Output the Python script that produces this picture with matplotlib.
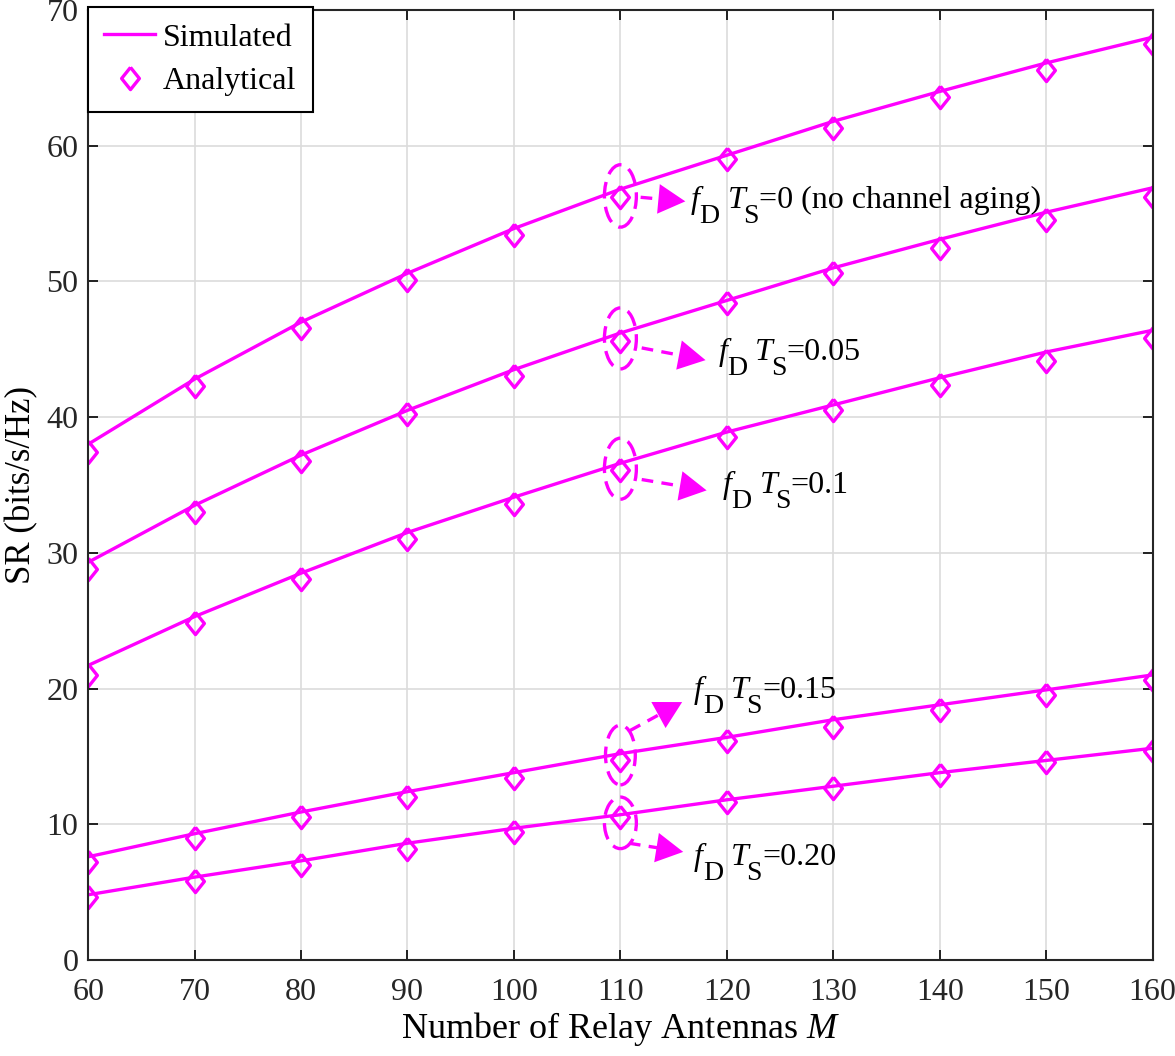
import matplotlib
matplotlib.use('Agg')
import numpy as np
import matplotlib.pyplot as plt
from matplotlib.patches import Ellipse
from matplotlib.transforms import offset_copy

plt.rcParams['font.family'] = ['Liberation Serif', 'DejaVu Serif']
plt.rcParams['mathtext.fontset'] = 'custom'
plt.rcParams['mathtext.rm'] = 'Liberation Serif'
plt.rcParams['mathtext.it'] = 'Liberation Serif:italic'

# data
M = [60, 70, 80, 90, 100, 110, 120, 130, 140, 150, 160]

sim_0 = [38.0, 42.8, 47.0, 50.6, 53.9, 56.8, 59.3, 61.8, 64.0, 66.1, 68.0]
ana_0 = [37.4, 42.3, 46.6, 50.1, 53.4, 56.2, 59.0, 61.3, 63.6, 65.6, 67.5]
sim_005 = [29.3, 33.5, 37.2, 40.5, 43.5, 46.2, 48.6, 51.0, 53.1, 55.1, 56.9]
ana_005 = [28.8, 33.0, 36.8, 40.2, 43.0, 45.6, 48.4, 50.6, 52.5, 54.5, 56.2]
sim_01 = [21.7, 25.3, 28.5, 31.5, 34.1, 36.6, 38.9, 40.9, 42.9, 44.8, 46.4]
ana_01 = [21.0, 24.8, 28.1, 31.0, 33.6, 36.1, 38.5, 40.5, 42.4, 44.1, 45.8]
sim_015 = [7.6, 9.3, 10.9, 12.4, 13.8, 15.2, 16.4, 17.7, 18.8, 19.9, 21.0]
ana_015 = [7.2, 9.0, 10.5, 12.0, 13.4, 14.7, 16.1, 17.2, 18.4, 19.5, 20.6]
sim_020 = [4.8, 6.1, 7.3, 8.6, 9.7, 10.7, 11.8, 12.8, 13.8, 14.7, 15.6]
ana_020 = [4.6, 5.8, 7.0, 8.2, 9.4, 10.5, 11.6, 12.7, 13.6, 14.6, 15.4]

sims = [sim_0, sim_005, sim_01, sim_015, sim_020]
anas = [ana_0, ana_005, ana_01, ana_015, ana_020]

ts_vals = ['=0 (no channel aging)', '=0.05', '=0.1', '=0.15', '=0.20']

# annotation geometry: ellipse (center y, width, height), arrow tail, arrow tip, text baseline
ell = [(56.3, 3.0, 4.6), (45.8, 3.0, 4.5), (36.2, 3.0, 4.5), (15.1, 2.8, 4.4), (10.1, 3.0, 3.8)]
arr_start = [(111.9, 56.2), (112.0, 45.1), (112.0, 35.4), (110.9, 16.9), (110.8, 8.6)]
arr_end = [(116.1, 55.9), (118.0, 44.2), (118.1, 34.6), (115.8, 19.0), (115.9, 7.96)]
txt_pos = [(116.6, 55.4), (119.2, 44.2), (119.6, 34.4), (116.9, 19.3), (116.9, 7.0)]

col = '#FF00FF'
diamond = [(0, 1), (0.8, 0), (0, -1), (-0.8, 0), (0, 1)]

fig = plt.figure(figsize=(11.75, 10.56), dpi=100)
ax = fig.add_axes([0.075, 0.091, 0.906, 0.8995])
ax.set_xlim(60, 160)
ax.set_ylim(0, 70)
renderer = fig.canvas.get_renderer()


def fdts(x, y, tail, fs=23, sub_fs=20, sub_dy=-15):
    # f_D T_S=... with large, lowered subscripts
    parts = [('f', 'italic', fs, 0, 0), ('D', 'normal', sub_fs, sub_dy, 0),
             ('T', 'italic', fs, 0, 8), ('S', 'normal', sub_fs, sub_dy, -2),
             (tail, 'normal', fs, 0, 0)]
    dx = 0
    for s, st, size, dy, gap in parts:
        dx += gap
        tr = offset_copy(ax.transData, fig=fig, x=dx, y=dy, units='dots')
        t = ax.text(x, y, s, transform=tr, fontsize=size, style=st, va='baseline', ha='left')
        dx += t.get_window_extent(renderer).width


def dashed_arrow(start, tip, head_px=27):
    p0 = ax.transData.transform(start)
    p1 = ax.transData.transform(tip)
    d = (p1 - p0) / np.hypot(*(p1 - p0))
    base = ax.transData.inverted().transform(p1 - d * (head_px - 2))
    ax.plot([start[0], base[0]], [start[1], base[1]], color=col, lw=2.4,
            linestyle=(0, (3.5, 2.5)), solid_capstyle='butt', dash_capstyle='butt')
    ax.annotate('', xy=tip, xytext=start,
                arrowprops=dict(arrowstyle='-|>,head_length=1.0,head_width=0.55', color=col,
                                lw=0.0, shrinkA=0, shrinkB=0, mutation_scale=head_px * 0.72))


for i in range(5):
    ax.plot(M, sims[i], '-', color=col, lw=2.4, label='Simulated' if i == 0 else None)
    ax.plot(M, anas[i], linestyle='none', marker=diamond, markersize=16, markerfacecolor='none',
            markeredgecolor=col, markeredgewidth=2.4, label='Analytical' if i == 0 else None)

for i in range(5):
    cy, w, h = ell[i]
    ax.add_patch(Ellipse((110, cy), w, h, fill=False, edgecolor=col, lw=2.4,
                         linestyle=(0, (5, 2.5)), zorder=5))
    dashed_arrow(arr_start[i], arr_end[i])
    fdts(txt_pos[i][0], txt_pos[i][1], ts_vals[i])

ax.set_xticks(M)
ax.set_yticks(range(0, 71, 10))
ax.grid(True, color='#dcdcdc', lw=1.2)
ax.set_axisbelow(True)
ax.tick_params(direction='in', labelsize=23, labelcolor='#262626', length=7, width=1.2,
               top=True, right=True, pad=7)
ax.tick_params(axis='x', pad=13)
for s in ax.spines.values():
    s.set_linewidth(1.5)
    s.set_color('#262626')

ax.set_xlabel('Number of Relay Antennas $M$', fontsize=26, labelpad=2)
ax.set_ylabel('SR (bits/s/Hz)', fontsize=25, labelpad=6)

leg = ax.legend(loc='upper left', bbox_to_anchor=(0.0, 1.003), fontsize=23, fancybox=False,
                framealpha=1, edgecolor='black', borderaxespad=0.0, handlelength=1.6,
                handletextpad=0.25, borderpad=0.5, labelspacing=0.45)
leg.get_frame().set_linewidth(1.5)

plt.savefig('out.png', dpi=100)
